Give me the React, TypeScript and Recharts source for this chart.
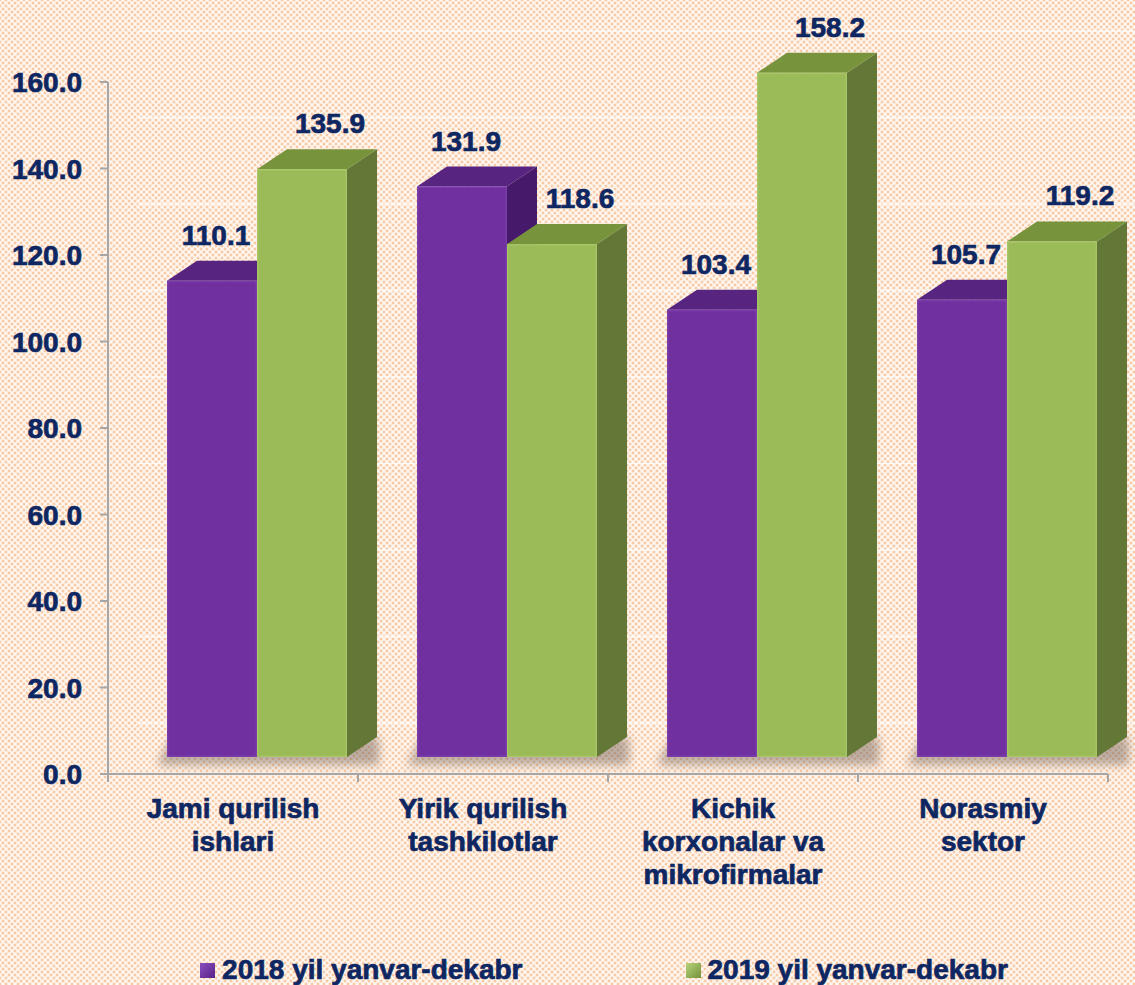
import React from "react";
import { BarChart, Bar, XAxis, YAxis, LabelList, Legend, CartesianGrid } from "recharts";

const categories = ["Jami qurilish ishlari", "Yirik qurilish tashkilotlar", "Kichik korxonalar va mikrofirmalar", "Norasmiy sektor"];
const categoryLines = [
  ["Jami qurilish", "ishlari"],
  ["Yirik qurilish", "tashkilotlar"],
  ["Kichik", "korxonalar va", "mikrofirmalar"],
  ["Norasmiy", "sektor"],
];
const series2018 = [110.1, 131.9, 103.4, 105.7];
const series2019 = [135.9, 118.6, 158.2, 119.2];
const seriesNames = ["2018 yil yanvar-dekabr", "2019 yil yanvar-dekabr"];
const yTicks = [0, 20, 40, 60, 80, 100, 120, 140, 160];

const data = categories.map((c, i) => ({ name: c, idx: i, a: series2018[i], b: series2019[i] }));

const TEXT = "#0E2762";
const FONT = "'Liberation Sans', Arial, sans-serif";
const SHIFT_X = 24;
const SHIFT_Y = -17;
const DX = 30;
const DY = 20;

const palettes: Record<string, { front: string; top: string; side: string; edge: string }> = {
  a: { front: "#7030A0", top: "#57247F", side: "#46196A", edge: "#8446B3" },
  b: { front: "#9BBB59", top: "#77933C", side: "#637736", edge: "#ADCB6E" },
};

const makeShape = (key: string) => (props: any) => {
  const { x, y, width, height } = props;
  const p = palettes[key];
  const fx = x + SHIFT_X;
  const fy = y + SHIFT_Y;
  const fw = width;
  const fh = height;
  const top = `${fx},${fy} ${fx + DX},${fy - DY} ${fx + fw + DX},${fy - DY} ${fx + fw},${fy}`;
  const side = `${fx + fw},${fy} ${fx + fw + DX},${fy - DY} ${fx + fw + DX},${fy + fh - DY} ${fx + fw},${fy + fh}`;
  return (
    <g>
      {key === "a" && (
        <polygon
          points={`${fx - 10},${fy + fh + 8} ${fx + 2 * fw + DX + 2},${fy + fh + 8} ${fx + 2 * fw + DX + 2},${fy + fh - DY} ${fx + 5},${fy + fh - DY}`}
          fill="#6b5a50"
          opacity={0.45}
          filter="url(#shadowBlur)"
        />
      )}
      <polygon points={side} fill={p.side} />
      <polygon points={top} fill={p.top} />
      <rect x={fx} y={fy} width={fw} height={fh} fill={p.front} />
      <rect x={fx + 0.75} y={fy + 0.75} width={fw - 1.5} height={fh - 1.5} fill="none" stroke={p.edge} strokeWidth={1.5} opacity={0.6} />
    </g>
  );
};

const makeLabel = (offset: number) => (props: any) => {
  const { x, y, width, value } = props;
  return (
    <text
      x={x + SHIFT_X + width / 2 + offset}
      y={y + SHIFT_Y - DY - 16}
      textAnchor="middle"
      fill={TEXT}
      stroke={TEXT}
      strokeWidth={0.7}
      fontFamily={FONT}
      fontWeight="bold"
      fontSize={28}
    >
      {Number(value).toFixed(1)}
    </text>
  );
};

const CategoryTick = (props: any) => {
  const { x, y, payload, index, width } = props;
  const band = width / categories.length;
  const lines = categoryLines[payload.index ?? index] || [payload.value];
  return (
    <g>
      <line x1={x - band / 2} y1={y - 8} x2={x - band / 2} y2={y} stroke="#A6A6A6" strokeWidth={2} />
      {index === categories.length - 1 && (
        <line x1={x + band / 2} y1={y - 8} x2={x + band / 2} y2={y} stroke="#A6A6A6" strokeWidth={2} />
      )}
      {lines.map((l: string, i: number) => (
        <text
          key={i}
          x={x}
          y={y + 36 + i * 33}
          textAnchor="middle"
          fill={TEXT}
          stroke={TEXT}
          strokeWidth={0.7}
          fontFamily={FONT}
          fontWeight="bold"
          fontSize={28}
        >
          {l}
        </text>
      ))}
    </g>
  );
};

const LegendContent = () => (
  <div style={{ display: "flex", justifyContent: "center", gap: 163, height: 30, alignItems: "center", paddingLeft: 100 }}>
    {seriesNames.map((n, i) => (
      <div key={n} style={{ display: "flex", alignItems: "center" }}>
        <div
          style={{
            width: 15,
            height: 15,
            background: i === 0 ? "linear-gradient(135deg,#8a4cc0,#5a2486)" : "linear-gradient(135deg,#b5d47a,#76923c)",
            marginRight: 7,
          }}
        />
        <span
          style={{
            color: TEXT,
            fontFamily: FONT,
            fontWeight: "bold",
            fontSize: 28,
            lineHeight: "30px",
            WebkitTextStroke: `0.7px ${TEXT}`,
          }}
        >
          {n}
        </span>
      </div>
    ))}
  </div>
);

const YTick = (props: any) => {
  const { x, y, payload } = props;
  return (
    <text
      x={x}
      y={y + 10}
      textAnchor="end"
      fill={TEXT}
      stroke={TEXT}
      strokeWidth={0.7}
      fontFamily={FONT}
      fontWeight="bold"
      fontSize={28}
    >
      {Number(payload.value).toFixed(1)}
    </text>
  );
};

export default function App() {
  return (
    <div
      style={{
        position: "absolute",
        left: 0,
        top: 0,
        width: 1135,
        height: 985,
        backgroundColor: "#FFF7F1",
        backgroundImage:
          "radial-gradient(circle, #F8CBA8 1.2px, transparent 1.8px), radial-gradient(circle, #F8CBA8 1.2px, transparent 1.8px)",
        backgroundSize: "6px 6px, 6px 6px",
        backgroundPosition: "0 0, 3px 3px",
      }}
    >
      <BarChart
        width={1135}
        height={985}
        data={data}
        margin={{ top: 82, right: 27, bottom: 0, left: 0 }}
        barGap={0}
        barCategoryGap={35}
      >
        <defs>
          <filter id="shadowBlur" x="-20%" y="-100%" width="140%" height="300%">
            <feGaussianBlur stdDeviation="5" />
          </filter>
        </defs>
        <CartesianGrid
          vertical={false}
          horizontal={(p: any) => (
            <line x1={p.x1 + 30} x2={p.x2 + 30} y1={p.y1 - 51} y2={p.y2 - 51} stroke="#FFFFFF" strokeOpacity={0.7} strokeWidth={1.5} />
          )}
        />
        <XAxis
          dataKey="name"
          interval={0}
          height={181}
          tickLine={false}
          tick={<CategoryTick />}
          axisLine={{ stroke: "#A6A6A6", strokeWidth: 2 }}
          tickSize={8}
          tickMargin={0}
        />
        <YAxis
          domain={[0, 160]}
          ticks={yTicks}
          width={108}
          tickSize={8}
          tickMargin={18}
          axisLine={{ stroke: "#A6A6A6", strokeWidth: 2 }}
          tickLine={{ stroke: "#A6A6A6", strokeWidth: 2 }}
          tick={<YTick />}
        />
        <Legend verticalAlign="bottom" height={30} content={<LegendContent />} />
        <Bar dataKey="a" name={seriesNames[0]} barSize={90} shape={makeShape("a")} isAnimationActive={false}>
          <LabelList dataKey="a" content={makeLabel(4)} />
        </Bar>
        <Bar dataKey="b" name={seriesNames[1]} barSize={90} shape={makeShape("b")} isAnimationActive={false}>
          <LabelList dataKey="b" content={makeLabel(28)} />
        </Bar>
      </BarChart>
    </div>
  );
}
